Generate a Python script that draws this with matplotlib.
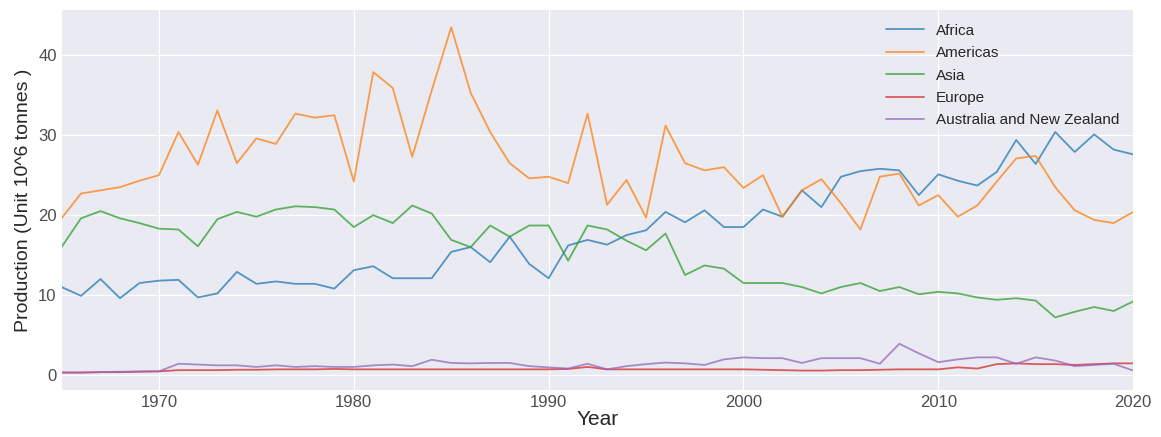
import matplotlib

matplotlib.use("Agg")

import matplotlib.pyplot as plt
import numpy as np

years = np.arange(1965, 2021)

africa = [
    11.0, 9.9, 12.0, 9.6, 11.5, 11.8, 11.9, 9.7, 10.2, 12.9,
    11.4, 11.7, 11.4, 11.4, 10.8, 13.1, 13.6, 12.1, 12.1, 12.1,
    15.4, 16.0, 14.1, 17.3, 13.9, 12.1, 16.2, 16.9, 16.3, 17.5,
    18.1, 20.4, 19.1, 20.6, 18.5, 18.5, 20.7, 19.8, 23.1, 21.0,
    24.8, 25.5, 25.8, 25.6, 22.5, 25.1, 24.3, 23.7, 25.4, 29.4,
    26.4, 30.4, 27.9, 30.1, 28.2, 27.6,
]
americas = [
    19.6, 22.7, 23.1, 23.5, 24.3, 25.0, 30.4, 26.3, 33.1, 26.5,
    29.6, 28.9, 32.7, 32.2, 32.5, 24.2, 37.9, 35.9, 27.3, 35.6,
    43.5, 35.3, 30.4, 26.5, 24.6, 24.8, 24.0, 32.7, 21.3, 24.4,
    19.7, 31.2, 26.5, 25.6, 26.0, 23.4, 25.0, 19.8, 23.1, 24.5,
    21.5, 18.2, 24.8, 25.2, 21.2, 22.5, 19.8, 21.2, 24.2, 27.1,
    27.4, 23.5, 20.6, 19.4, 19.0, 20.4,
]
asia = [
    16.0, 19.6, 20.5, 19.6, 19.0, 18.3, 18.2, 16.1, 19.5, 20.4,
    19.8, 20.7, 21.1, 21.0, 20.7, 18.5, 20.0, 19.0, 21.2, 20.2,
    16.9, 16.0, 18.7, 17.3, 18.7, 18.7, 14.3, 18.7, 18.2, 16.8,
    15.6, 17.7, 12.5, 13.7, 13.3, 11.5, 11.5, 11.5, 11.0, 10.2,
    11.0, 11.5, 10.5, 11.0, 10.1, 10.4, 10.2, 9.7, 9.4, 9.6,
    9.3, 7.2, 7.9, 8.5, 8.0, 9.2,
]
europe = [
    0.3, 0.3, 0.35, 0.35, 0.4, 0.45, 0.6, 0.6, 0.6, 0.65,
    0.65, 0.7, 0.7, 0.7, 0.75, 0.7, 0.7, 0.7, 0.7, 0.7,
    0.7, 0.7, 0.7, 0.7, 0.7, 0.7, 0.75, 1.0, 0.7, 0.7,
    0.7, 0.7, 0.7, 0.7, 0.7, 0.7, 0.65, 0.6, 0.55, 0.55,
    0.6, 0.6, 0.65, 0.7, 0.7, 0.7, 0.95, 0.8, 1.35, 1.45,
    1.35, 1.35, 1.25, 1.35, 1.45, 1.45,
]
australia_nz = [
    0.3, 0.3, 0.35, 0.4, 0.45, 0.45, 1.4, 1.3, 1.2, 1.2,
    1.0, 1.2, 1.0, 1.1, 1.0, 1.0, 1.2, 1.3, 1.1, 1.9,
    1.5, 1.45, 1.5, 1.5, 1.1, 0.95, 0.8, 1.4, 0.7, 1.1,
    1.35, 1.55, 1.45, 1.25, 1.95, 2.2, 2.1, 2.1, 1.5, 2.1,
    2.1, 2.1, 1.4, 3.9, 2.7, 1.6, 1.95, 2.2, 2.2, 1.4,
    2.2, 1.8, 1.1, 1.25, 1.4, 0.55,
]

series = {
    "Africa": africa,
    "Americas": americas,
    "Asia": asia,
    "Europe": europe,
    "Australia and New Zealand": australia_nz,
}

plt.style.use("seaborn-v0_8-darkgrid")
plt.rcParams["font.family"] = ["Liberation Sans", "DejaVu Sans"]

fig = plt.figure(figsize=(11.61, 4.37), dpi=100)
ax = fig.add_axes([0.053, 0.108, 0.923, 0.869])

for name, values in series.items():
    ax.plot(years, values, linewidth=1.3, alpha=0.75, label=name)

ax.set_xlim(1965, 2020)
ax.set_xticks([1970, 1980, 1990, 2000, 2010, 2020])
ax.set_yticks([0, 10, 20, 30, 40])
ax.tick_params(labelsize=12, colors="0.3")
ax.set_xlabel("Year", fontsize=15, labelpad=0)
ax.set_ylabel("Production (Unit 10^6 tonnes )", fontsize=14, labelpad=4)
ax.legend(loc="upper right", fontsize=11, frameon=False,
          bbox_to_anchor=(1.0, 1.0), handlelength=2.5, labelspacing=0.55)

fig.savefig("out.png", dpi=100, facecolor="white")
